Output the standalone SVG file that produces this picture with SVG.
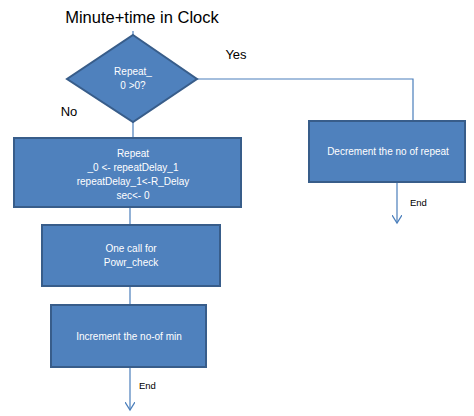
<svg xmlns="http://www.w3.org/2000/svg" width="474" height="416" viewBox="0 0 474 416">
<style>
.box{fill:#4f81bd;stroke:#385d8a;stroke-width:2}
.t{font-family:"Liberation Sans",Arial,sans-serif;font-size:10px;fill:#ffffff;text-anchor:middle}
.l{font-family:"Liberation Sans",Arial,sans-serif;fill:#000000}
.c{fill:none;stroke:#4a7ebb;stroke-width:1.2}
</style>
<defs>
<marker id="ah" markerWidth="10" markerHeight="10" refX="8" refY="5" orient="auto" markerUnits="userSpaceOnUse" viewBox="0 0 10 10">
<path d="M0,0 L8,5 L0,10" fill="none" stroke="#4a7ebb" stroke-width="1.2"/>
</marker>
</defs>
<rect width="474" height="416" fill="#ffffff"/>
<text class="l" x="142" y="23" font-size="16.5" text-anchor="middle">Minute+time in Clock</text>
<text class="l" x="236" y="59" font-size="13" text-anchor="middle">Yes</text>
<text class="l" x="69" y="116" font-size="13" text-anchor="middle">No</text>
<g id="connectors">
<path class="c" d="M133,31 V35"/>
<path class="c" d="M197,79 H413 V121"/>
<path class="c" d="M133,122 V138"/>
<path class="c" d="M130,207 V225"/>
<path class="c" d="M130,286 V305"/>
<path class="c" d="M130,367 V410" marker-end="url(#ah)"/>
<path class="c" d="M397,182 V223" marker-end="url(#ah)"/>
<text class="l" x="139" y="389" font-size="9.5">End</text>
<text class="l" x="410" y="206" font-size="9.5">End</text>
</g>
<g id="decision">
<path class="box" d="M133,35 L197,79 L133,122 L67,79 Z"/>
<text class="t" x="133" y="75">Repeat_</text>
<text class="t" x="133" y="89">0 &gt;0?</text>
</g>
<g id="decrement">
<rect class="box" x="309" y="121" width="156" height="61"/>
<text class="t" x="388" y="155">Decrement the no of repeat</text>
</g>
<g id="repeat">
<rect class="box" x="14" y="138" width="227" height="69"/>
<text class="t" x="133" y="157">Repeat</text>
<text class="t" x="133" y="171">_0 &lt;- repeatDelay_1</text>
<text class="t" x="133" y="185">repeatDelay_1&lt;-R_Delay</text>
<text class="t" x="133" y="199">sec&lt;- 0</text>
</g>
<g id="powr">
<rect class="box" x="42" y="225" width="178" height="61"/>
<text class="t" x="131" y="252">One call for</text>
<text class="t" x="131" y="266">Powr_check</text>
</g>
<g id="increment">
<rect class="box" x="51" y="305" width="155" height="62"/>
<text class="t" x="129" y="340">Increment the no-of min</text>
</g>
</svg>
